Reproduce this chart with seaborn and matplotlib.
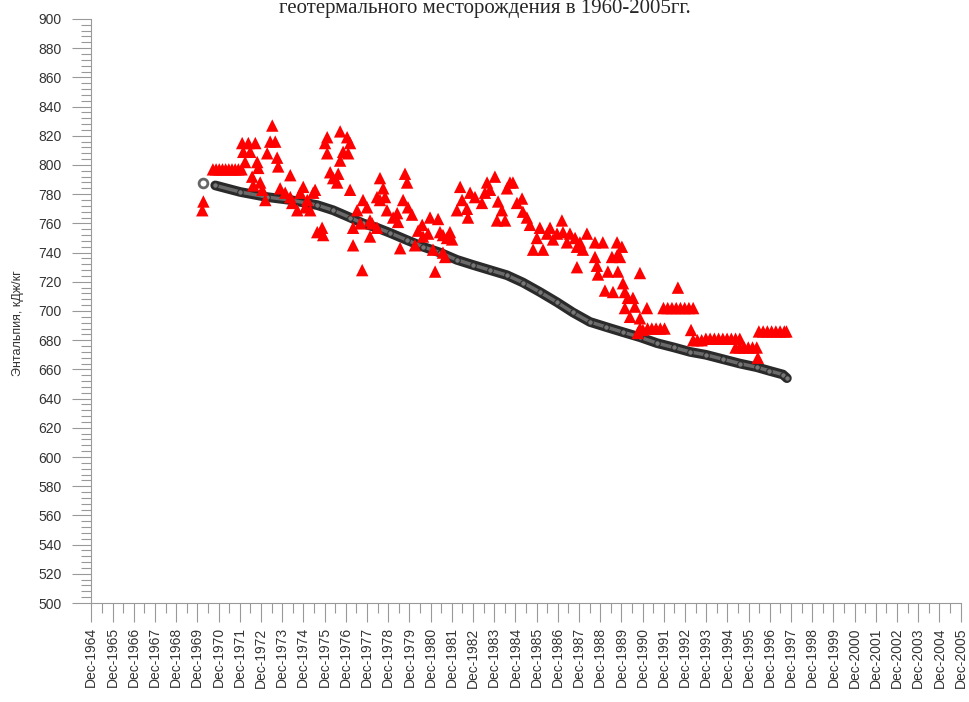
import numpy as np
import pandas as pd
import matplotlib
matplotlib.use("Agg")
import matplotlib.pyplot as plt
from matplotlib.ticker import MultipleLocator, FixedLocator
import seaborn as sns

# measured enthalpy (red triangles), decimal years
obs_year = [
    1970.15, 1970.2,
    1970.65, 1970.8, 1970.95, 1971.1, 1971.25, 1971.4, 1971.55, 1971.7, 1971.85, 1972.0,
    1972.03, 1972.32, 1972.65, 1972.08, 1972.41, 1972.17, 1972.74, 1972.79, 1972.5, 1972.55,
    1972.88, 1972.98, 1973.12, 1973.45, 1973.35, 1973.59, 1973.21, 1973.68, 1973.73, 1974.3,
    1973.82, 1974.06, 1974.3, 1974.39, 1974.63, 1974.77, 1974.91, 1975.1, 1975.24, 1975.38,
    1975.47, 1975.0, 1975.57, 1975.8, 1975.85,
    1976.04, 1976.65, 1976.98, 1977.12, 1975.94, 1976.04, 1976.79, 1977.03, 1976.65, 1976.18,
    1976.32, 1976.51, 1976.56, 1977.12,
    1977.45, 1977.73, 1977.92, 1978.06, 1977.6, 1977.26, 1978.16, 1978.39, 1978.06, 1977.26,
    1977.69, 1978.53, 1978.68, 1978.39, 1978.53, 1978.77, 1978.86,
    1979.71, 1979.81, 1979.62, 1979.85, 1980.04, 1979.34, 1979.15, 1979.38, 1979.48,
    1980.33, 1980.52, 1980.56, 1980.8, 1980.89, 1981.27, 1981.36, 1981.5, 1981.69, 1981.83,
    1981.93, 1980.18, 1981.03, 1981.5, 1981.6, 1981.13,
    1982.31, 1982.16, 1982.4, 1982.63, 1982.68, 1982.78, 1983.01, 1983.34, 1983.58, 1983.48,
    1983.72, 1983.95, 1984.1, 1984.05, 1984.43, 1984.28, 1984.52, 1984.66, 1984.8, 1984.99,
    1985.23, 1985.27, 1985.46, 1985.6,
    1985.75, 1985.93, 1986.07, 1986.22, 1986.41, 1986.55, 1986.69, 1986.88, 1987.11, 1987.16,
    1987.35, 1987.49, 1987.73, 1987.82, 1987.96, 1988.1, 1988.29, 1987.82,
    1988.67, 1989.04, 1989.71, 1989.94, 1988.67, 1988.76, 1988.81, 1989.28, 1989.47, 1989.71,
    1989.75, 1989.85, 1990.79, 1989.14, 1989.52, 1989.99, 1990.08, 1990.22, 1990.08, 1990.46,
    1990.32, 1990.55, 1991.12, 1990.79, 1990.79, 1990.93, 1990.69,
    1991.15, 1991.35, 1991.55, 1991.75, 1991.95,
    1992.58,
    1991.9, 1992.1, 1992.3, 1992.5, 1992.7, 1992.9, 1993.1, 1993.3,
    1993.2,
    1993.3, 1993.5, 1993.7, 1993.9, 1994.1, 1994.3, 1994.5, 1994.7, 1994.9, 1995.1, 1995.3, 1995.5,
    1995.3, 1995.5, 1995.7, 1995.9, 1996.1, 1996.3,
    1996.35,
    1996.4, 1996.6, 1996.8, 1997.0, 1997.2, 1997.4, 1997.6, 1997.7,
]
obs_enthalpy = [
    769, 775,
    797, 797, 797, 797, 797, 797, 797, 797, 797, 797,
    815, 815, 815, 809, 809, 802, 802, 798, 792, 786,
    788, 783, 776, 827, 816, 816, 808, 805, 799, 793,
    784, 781, 778, 774, 769, 781, 785, 776, 769, 781,
    783, 771, 754, 757, 752,
    819, 823, 819, 815, 815, 808, 809, 808, 803, 795,
    791, 788, 794, 783,
    769, 776, 771, 762, 760, 757, 760, 757, 751, 745,
    728, 791, 784, 778, 776, 778, 769,
    794, 788, 776, 771, 766, 767, 764, 761, 743,
    755, 759, 751, 753, 764, 763, 754, 752, 750, 754,
    749, 745, 742, 740, 737, 727,
    785, 769, 776, 770, 764, 781, 778, 774, 788, 781,
    783, 792, 775, 762, 762, 769, 784, 788, 788, 774,
    777, 768, 764, 759,
    742, 750, 757, 742, 753, 757, 749, 753, 762, 754,
    747, 753, 750, 744, 747, 742, 753, 730,
    747, 747, 747, 744, 737, 731, 725, 727, 737, 738,
    727, 737, 726, 714, 713, 719, 713, 709, 702, 709,
    696, 703, 702, 695, 688, 687, 685,
    688, 688, 688, 688, 688,
    716,
    702, 702, 702, 702, 702, 702, 702, 702,
    687,
    680, 680, 680, 681, 681, 681, 681, 681, 681, 681, 681, 681,
    675, 675, 675, 675, 675, 675,
    668,
    686, 686, 686, 686, 686, 686, 686, 686,
]

# calculated enthalpy (dark line of circles)
calc_year = [1970.76, 1971.94, 1973.21, 1974.3, 1975.57, 1976.32, 1977.12, 1977.73, 1978.39,
             1979.0, 1979.81, 1980.56, 1981.36, 1982.16, 1982.92, 1983.72, 1984.52, 1985.27,
             1986.07, 1986.88, 1987.63, 1988.43, 1989.2, 1989.99, 1990.8, 1991.59, 1992.4,
             1993.15, 1993.9, 1994.7, 1995.5, 1996.3, 1996.9, 1997.53, 1997.72]
calc_enthalpy = [786, 781.5, 778, 776, 772.5, 769, 764, 760, 757,
                 753.5, 748.5, 744, 740, 735, 731.5, 728, 724.5, 719.5,
                 713, 706, 699, 692.5, 689, 685.5, 682, 678, 675,
                 672, 670, 667, 664, 661.5, 659, 656.5, 654]

# single early calculated point (open circle)
start_year = [1970.2]
start_enthalpy = [787.5]

tick_years = list(range(1964, 2006))
tick_labels = ["Dec-%d" % y for y in tick_years]

sns.set_theme(style="white")
plt.rcParams["font.family"] = ["Liberation Sans", "DejaVu Sans"]

fig = plt.figure(figsize=(9.69, 7.02), dpi=100)
ax = fig.add_axes([0.0939, 0.141, 0.8978, 0.832])

obs = pd.DataFrame({"year": obs_year, "h": obs_enthalpy})
calc = pd.DataFrame({"year": calc_year, "h": calc_enthalpy})

sns.lineplot(data=calc, x="year", y="h", ax=ax, color="#2a2a2a", linewidth=7,
             solid_capstyle="round", zorder=2)
sns.lineplot(data=calc, x="year", y="h", ax=ax, color="#6a6a6a", linewidth=2.5,
             marker="o", markersize=4, markerfacecolor="#777777", markeredgecolor="#2a2a2a",
             zorder=3)
sns.scatterplot(x=start_year, y=start_enthalpy, ax=ax, s=40, marker="o",
                facecolor="white", edgecolor="#666666", linewidth=2, zorder=3)
sns.scatterplot(data=obs, x="year", y="h", ax=ax, marker="^", s=80, color="#ff0000",
                edgecolor="none", linewidth=0, zorder=4)

ax.set_xlim(1964.9, 2005.93)
ax.set_ylim(500, 900)

ax.xaxis.set_major_locator(FixedLocator([y + 11 / 12 for y in tick_years]))
ax.set_xticklabels(tick_labels, rotation=90, fontsize=10, color="#333333")
ax.xaxis.set_minor_locator(FixedLocator([y + 5 / 12 for y in tick_years[1:]]))
ax.yaxis.set_major_locator(MultipleLocator(20))
ax.yaxis.set_minor_locator(MultipleLocator(4))
ax.tick_params(axis="y", labelsize=10, labelcolor="#333333")

ax.tick_params(which="major", direction="out", length=14, width=0.8, color="#999999",
               left=True, bottom=True)
ax.tick_params(axis="y", which="major", pad=7)
ax.tick_params(which="minor", direction="out", length=7, width=0.8, color="#999999",
               left=True, bottom=True)

for side in ["top", "right"]:
    ax.spines[side].set_visible(False)
for side in ["left", "bottom"]:
    ax.spines[side].set_color("#999999")
    ax.spines[side].set_linewidth(0.8)

ax.set_xlabel("")
ax.set_ylabel("Энтальпия, кДж/кг", fontsize=9, color="#333333")
ax.yaxis.set_label_coords(-0.077, 0.48)

fig.text(0.5, 0.982, "геотермального месторождения в 1960-2005гг.", ha="center",
         va="baseline", fontsize=15, family=["Liberation Serif", "DejaVu Serif"])

fig.savefig("out.png", dpi=100)
